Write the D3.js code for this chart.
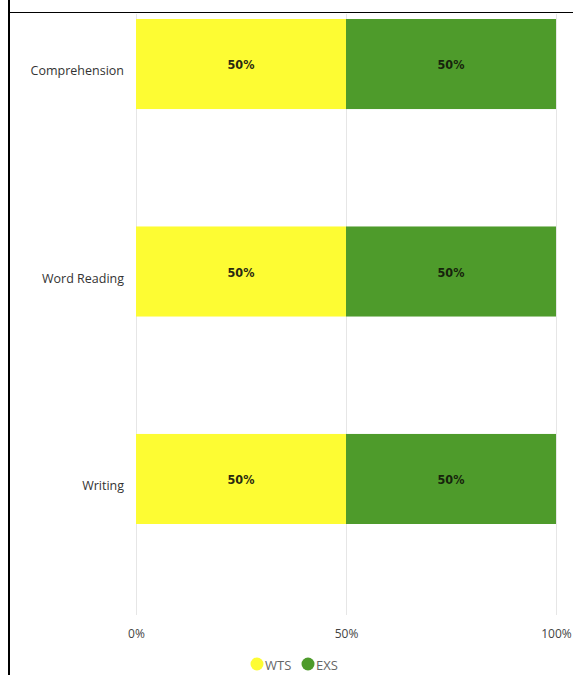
<!DOCTYPE html>
<html>
<head>
<meta charset="utf-8">
<script src="https://cdn.jsdelivr.net/npm/d3@7"></script>
<style>
  html, body { margin: 0; padding: 0; background: #fff; }
  svg { display: block; }
</style>
</head>
<body>
<svg id="chart" width="573" height="675"></svg>
<script>
const categories = ["Comprehension", "Word Reading", "Writing"];
const seriesNames = ["WTS", "EXS"];
const wtsValues = [50, 50, 50];
const exsValues = [50, 50, 50];
const tickValues = [0, 50, 100];
const tickLabels = ["0%", "50%", "100%"];
const colors = ["#fdfc33", "#4e9b2b"];

const svg = d3.select("#chart");
const font = "'Segoe UI', 'Open Sans', 'Noto Sans', sans-serif";

// frame lines
svg.append("line").attr("x1", 8).attr("x2", 573).attr("y1", 12.5).attr("y2", 12.5)
  .attr("stroke", "#000").attr("stroke-width", 1.2);
svg.append("line").attr("x1", 9).attr("x2", 9).attr("y1", 0).attr("y2", 675)
  .attr("stroke", "#000").attr("stroke-width", 2);

const x = d3.scaleLinear().domain([0, 100]).range([136, 556]);
const y = d3.scaleBand().domain(categories).range([19, 524]).paddingInner(0.566).paddingOuter(0);

// gridlines
svg.append("g").selectAll("line").data(tickValues).join("line")
  .attr("x1", d => x(d) + 0.5).attr("x2", d => x(d) + 0.5)
  .attr("y1", 14).attr("y2", 615)
  .attr("stroke", "#e6e6e6").attr("stroke-width", 1);

const rows = categories.map((c, i) => ({ cat: c, vals: [wtsValues[i], exsValues[i]] }));
const stacked = [];
rows.forEach(r => {
  let acc = 0;
  r.vals.forEach((v, j) => {
    stacked.push({ cat: r.cat, s: j, x0: acc, x1: acc + v, v });
    acc += v;
  });
});

svg.append("g").selectAll("rect").data(stacked).join("rect")
  .attr("x", d => x(d.x0)).attr("width", d => x(d.x1) - x(d.x0))
  .attr("y", d => y(d.cat)).attr("height", y.bandwidth())
  .attr("fill", d => colors[d.s]);

svg.append("g").selectAll("text").data(stacked).join("text")
  .attr("x", d => (x(d.x0) + x(d.x1)) / 2)
  .attr("y", d => y(d.cat) + y.bandwidth() / 2 + 1)
  .attr("dy", "0.35em")
  .attr("text-anchor", "middle")
  .attr("font-family", "'DejaVu Sans Condensed', 'DejaVu Sans', sans-serif")
  .attr("font-size", 12.5).attr("font-weight", "600")
  .attr("fill", d => d.s === 0 ? "#2a2a10" : "#16230c")
  .text(d => d.v + "%");

// category labels
const yAxis = d3.axisLeft(y).tickSize(0).tickPadding(0);
const gy = svg.append("g").attr("transform", "translate(124,7)").call(yAxis);
gy.select(".domain").remove();
gy.selectAll("text").attr("font-family", font).attr("font-size", 12.5).attr("fill", "#333")
  .attr("dy", "0.35em");

// x axis labels
const xAxis = d3.axisBottom(x).tickValues(tickValues).tickSize(0).tickPadding(0)
  .tickFormat((d, i) => tickLabels[i]);
const gx = svg.append("g").attr("transform", "translate(0,629)").call(xAxis);
gx.select(".domain").remove();
gx.selectAll("text").attr("font-family", font).attr("font-size", 12).attr("fill", "#444");

// legend
const legendItems = [
  { name: seriesNames[0], color: colors[0], cx: 257, tx: 265 },
  { name: seriesNames[1], color: colors[1], cx: 308, tx: 316 }
];
const lg = svg.append("g");
lg.selectAll("circle").data(legendItems).join("circle")
  .attr("cx", d => d.cx).attr("cy", 664).attr("r", 6.5).attr("fill", d => d.color);
lg.selectAll("text").data(legendItems).join("text")
  .attr("x", d => d.tx).attr("y", 665).attr("dy", "0.35em")
  .attr("font-family", font).attr("font-size", 13).attr("fill", "#666")
  .text(d => d.name);
</script>
</body>
</html>
